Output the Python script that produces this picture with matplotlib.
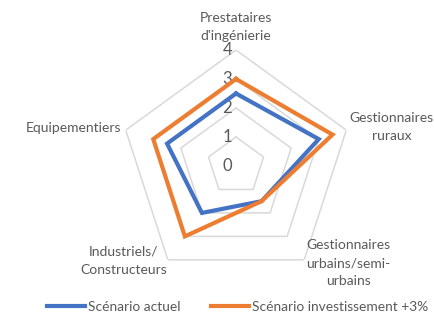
import numpy as np
import matplotlib
matplotlib.use("Agg")
import matplotlib.pyplot as plt
from matplotlib.lines import Line2D

categories = [
    "Prestataires\nd'ingénierie",
    "Gestionnaires\nruraux",
    "Gestionnaires\nurbains/semi-\nurbains",
    "Industriels/\nConstructeurs",
    "Equipementiers",
]
series_names = ["Scénario actuel", "Scénario investissement +3%"]
scenario_actuel = [2.5, 3.0, 1.5, 2.0, 2.5]
scenario_invest = [3.0, 3.5, 1.5, 3.0, 3.0]
r_ticks = [0, 1, 2, 3, 4]

plt.rcParams["font.family"] = ["Lato", "DejaVu Sans"]
text_color = "#595959"
grid_color = "#D9D9D9"
colors = ["#4472C4", "#ED7D31"]

fig = plt.figure(figsize=(4.35, 3.2), dpi=100)
renderer = fig.canvas.get_renderer()


def text_width(s, size):
    t = fig.text(0, 0, s, fontsize=size)
    w = t.get_window_extent(renderer).width
    t.remove()
    return w


ax = fig.add_axes([0.2759, 0.11875, 0.5333, 0.725], projection="polar")
ax.set_theta_zero_location("N")
ax.set_theta_direction(-1)
ax.set_ylim(0, 4)
ax.set_xticks([])
ax.set_yticks([])
ax.spines["polar"].set_visible(False)
ax.grid(False)
ax.patch.set_alpha(0)

n = len(categories)
angles = np.arange(n) * 2 * np.pi / n
closed = np.append(angles, angles[0])

# pentagonal grid rings
for level in r_ticks[1:]:
    ax.plot(closed, [level] * (n + 1), color=grid_color, lw=1.1, zorder=1)

# radial value labels next to the top axis
for level in r_ticks:
    ax.annotate(str(level), xy=(0, level), xytext=(-4, 0), textcoords="offset pixels",
                ha="right", va="center", fontsize=12, color=text_color)

for vals, c in zip([scenario_actuel, scenario_invest], colors):
    ax.plot(closed, vals + vals[:1], color=c, lw=3, zorder=3, solid_joinstyle="miter")

# category labels around the outer ring
label_size = 10
label_specs = [
    ((0, 8), "center", "bottom"),
    ((3, 3), "left", "center"),
    ((2, 21), "left", "top"),
    ((-1, 14), "right", "top"),
    ((-4, 2), "right", "center"),
]
for ang, cat, (off, ha, va) in zip(angles, categories, label_specs):
    ax.annotate(cat, xy=(ang, 4), xytext=off, textcoords="offset pixels",
                ha=ha, va=va, multialignment="center", fontsize=label_size,
                color=text_color, linespacing=1.62, annotation_clip=False)

# legend sized so that its long entry spans about 175 px
legend_size = 11 * 175 / text_width(series_names[1], 11)
em = legend_size * fig.dpi / 72
handles = [Line2D([], [], color=c, lw=3) for c in colors]
fig.legend(handles, series_names, ncol=2, loc="center",
           bbox_to_anchor=(0.546, 1 - 307 / 320), frameon=False,
           fontsize=legend_size, labelcolor=text_color, handlelength=38 / em,
           handletextpad=3 / em, columnspacing=30 / em, borderpad=0.2)

fig.savefig("out.png", dpi=100, facecolor="white")
